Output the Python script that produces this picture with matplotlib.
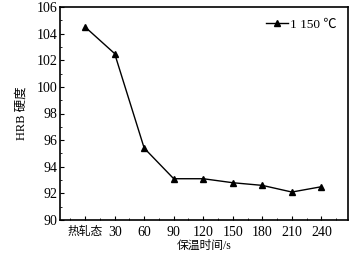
import matplotlib
matplotlib.use('Agg')
import matplotlib.pyplot as plt
from matplotlib.ticker import MultipleLocator

plt.rcParams['font.family'] = ['Liberation Serif', 'Noto Sans CJK SC']
plt.rcParams['font.size'] = 8

categories = ['热轧态', '30', '60', '90', '120', '150', '180', '210', '240']
hardness = [104.5, 102.5, 95.4, 93.1, 93.1, 92.8, 92.6, 92.1, 92.5]
series_label = '1 150 ℃'

fig = plt.figure(figsize=(3.6, 2.58), dpi=100)
ax = fig.add_axes([60 / 360, 1 - 220 / 258, 288 / 360, 213 / 258])

x = list(range(len(categories)))
ax.plot(x, hardness, color='black', linewidth=1.0, marker='^', markersize=4.5,
        label=series_label)

ax.set_xlim(-0.85, 8.9)
ax.set_ylim(90, 106)
ax.set_xticks(x)
ax.set_xticklabels(categories)
ax.xaxis.set_minor_locator(MultipleLocator(0.5))
ax.yaxis.set_major_locator(MultipleLocator(2))
ax.yaxis.set_minor_locator(MultipleLocator(1))
ax.tick_params(which='both', direction='in', top=False, right=False)
ax.tick_params(which='major', length=3, labelsize=10, pad=2)
ax.tick_params(axis='x', pad=4)
ax.tick_params(which='minor', length=1.5)
ax.get_xticklabels()[0].set_fontsize(8.5)
for s in ax.spines.values():
    s.set_linewidth(1.2)

ax.set_xlabel('保温时间/s', fontsize=8.5, labelpad=1)
ax.set_ylabel('HRB 硬度', fontsize=9, labelpad=6)

ax.legend(loc='upper right', frameon=False, fontsize=9.5, handlelength=1.7,
          handletextpad=0.1, borderaxespad=0.5)

fig.savefig('out.png', dpi=100)
